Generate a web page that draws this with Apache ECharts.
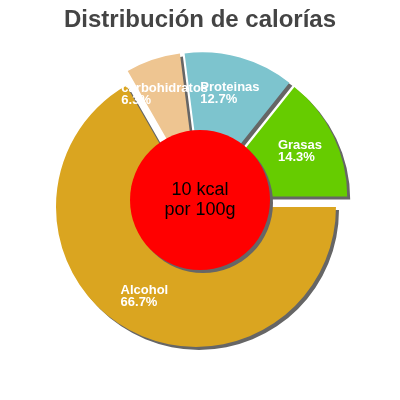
<!DOCTYPE html>
<html>
<head>
<meta charset="utf-8">
<script src="https://cdn.jsdelivr.net/npm/echarts@6/dist/echarts.min.js"></script>
<style>html,body{margin:0;padding:0;background:#fff}#c{width:400px;height:400px}</style>
</head>
<body>
<div id="c"></div>
<script>
const categories = ['Alcohol', 'carbohidratos', 'Proteinas', 'Grasas'];
const percents = [66.7, 6.3, 12.7, 14.3];
const colors = ['#DAA520', '#EEC591', '#7DC4CE', '#66CC00'];
const centerText = '10 kcal\npor 100g';
const titleText = 'Distribución de calorías';

const chart = echarts.init(document.getElementById('c'), null, {renderer: 'canvas'});
const shadow = {shadowColor: '#666666', shadowBlur: 0, shadowOffsetX: 3, shadowOffsetY: 3};
chart.setOption({
  animation: false,
  title: {
    text: titleText, left: 'center', top: 3,
    textStyle: {fontFamily: 'Liberation Sans, Arial', fontSize: 24, fontWeight: 'bold', color: '#444444'}
  },
  series: [
    {
      type: 'pie',
      center: [200, 200],
      radius: [60, 140],
      startAngle: 0,
      clockwise: true,
      avoidLabelOverlap: false,
      minShowLabelAngle: 0,
      selectedMode: 'multiple',
      selectedOffset: 8,
      silent: true,
      emphasis: {disabled: true},
      labelLayout: {hideOverlap: false},
      data: categories.map((n, i) => ({
        name: n, value: percents[i], selected: true,
        itemStyle: Object.assign({color: colors[i], borderWidth: 0}, shadow)
      })),
      label: {
        show: true, position: 'inside', overflow: 'none',
        formatter: p => '{a|' + p.name + '}\n{a|' + p.value.toFixed(1) + '%}',
        rich: {a: {align: 'left', color: '#fff', fontSize: 13, fontWeight: 'bold', lineHeight: 12, fontFamily: 'Liberation Sans, Arial'}},
        color: '#fff', align: 'center'
      },
      labelLine: {show: false}
    },
    {
      type: 'pie',
      center: [200, 200],
      radius: [0, 70],
      silent: true,
      emphasis: {disabled: true},
      data: [{name: 'total', value: 1, itemStyle: Object.assign({color: '#FF0000'}, shadow)}],
      label: {
        show: true, position: 'center', formatter: centerText,
        color: '#000', fontSize: 18, lineHeight: 20, fontFamily: 'Liberation Sans, Arial'
      },
      labelLine: {show: false}
    }
  ]
});
</script>
</body>
</html>
